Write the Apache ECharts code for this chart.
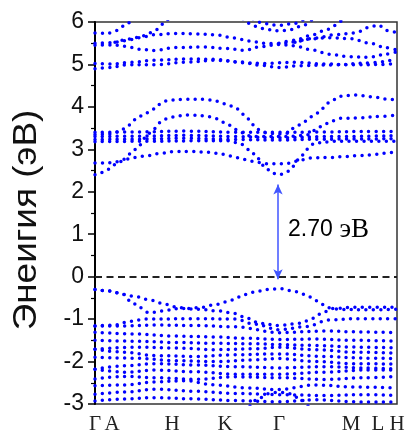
<!DOCTYPE html>
<html><head><meta charset="utf-8">
<script src="https://cdn.jsdelivr.net/npm/echarts@6/dist/echarts.min.js"></script>
<style>html,body{margin:0;padding:0;background:#fff}#c{width:409px;height:435px}</style>
</head><body><div id="c"></div>
<script>
// k-path (arbitrary path units) and high-symmetry labels
const kTicks = [0, 17, 77, 130, 184, 256, 283, 302];
const kLabels = ['Γ', 'A', 'H', 'K', 'Γ', 'M', 'L', 'H'];
const yTitle = 'Энеигия (эВ)';
const gapText = '2.70';
const gapUnit = 'эВ';
const gapK = 183;
const gapEnds = [-0.06, 2.17];

// conduction bands [k, E]
const u1 = [[0,4.90],[17,4.93],[30,4.99],[60,4.99],[90,5.05],[120,5.10],[145,5.06],[165,4.98],[184,4.93],[205,4.97],[240,4.99],[270,5.03],[302,5.12]];
const u2 = [[0,5.02],[17,5.01],[35,5.05],[60,5.10],[90,5.13],[120,5.12],[150,5.04],[170,5.02],[184,5.04],[200,5.05],[230,5.01],[260,4.99],[285,5.00],[302,5.02]];
const u3 = [[0,5.45],[17,5.46],[30,5.43],[45,5.36],[60,5.33],[80,5.40],[110,5.41],[130,5.38],[150,5.33],[165,5.42],[184,5.47],[200,5.44],[215,5.35],[235,5.24],[255,5.18],[275,5.17],[290,5.24],[302,5.30]];
const u4 = [[0,5.50],[17,5.51],[30,5.56],[45,5.63],[60,5.70],[80,5.73],[100,5.72],[120,5.70],[140,5.62],[155,5.55],[170,5.50],[184,5.49],[200,5.53],[215,5.60],[235,5.63],[255,5.61],[275,5.50],[290,5.40],[302,5.34]];
const u5 = [[0,5.74],[12,5.73],[22,5.80],[30,5.92],[38,6.10]];
const u6 = [[20,5.52],[35,5.60],[50,5.68],[60,5.80],[68,5.95],[74,6.10]];
const u7 = [[148,6.08],[160,5.90],[172,5.82],[184,5.79],[196,5.82],[208,5.92],[218,6.08]];
const u8 = [[158,6.08],[170,5.96],[184,5.92],[198,5.96],[210,6.08]];
const u9 = [[184,5.50],[200,5.57],[215,5.68],[230,5.80],[240,5.92],[248,6.08]];
const u10 = [[200,5.52],[220,5.62],[240,5.70],[260,5.74],[275,5.88],[283,5.93],[292,5.80],[302,5.74]];

const c1 = [[0,2.40],[4,2.43],[12,2.52],[20,2.64],[30,2.76],[40,2.81],[50,2.84],[64,2.90],[80,2.95],[97,2.95],[114,2.93],[130,2.88],[140,2.81],[150,2.76],[163,2.69],[173,2.66],[183,2.66],[193,2.67],[202,2.72],[210,2.76],[217,2.80],[237,2.81],[250,2.83],[263,2.85],[277,2.87],[290,2.91],[302,2.95]];
const c2 = [[0,2.68],[12,2.68],[20,2.70],[28,2.76],[36,2.90],[43,3.05],[50,3.27],[58,3.46],[65,3.63],[72,3.72],[82,3.79],[95,3.81],[110,3.79],[122,3.72],[133,3.58],[142,3.46],[153,3.32],[165,3.30],[184,3.30],[200,3.31],[212,3.34],[220,3.45],[228,3.56],[236,3.66],[246,3.73],[265,3.74],[280,3.77],[302,3.81]];
const c3 = [[0,3.35],[15,3.36],[25,3.42],[32,3.54],[40,3.70],[50,3.84],[57,3.93],[63,4.05],[74,4.16],[90,4.18],[110,4.18],[123,4.13],[133,4.05],[142,3.95],[150,3.80],[158,3.58],[165,3.45],[172,3.38],[184,3.36],[192,3.38],[200,3.52],[210,3.66],[220,3.82],[228,3.97],[235,4.12],[245,4.25],[260,4.28],[277,4.24],[292,4.18],[302,4.17]];
const k1 = [[0,3.40],[40,3.41],[90,3.43],[140,3.40],[184,3.40],[230,3.41],[270,3.42],[302,3.42]];
const k2 = [[0,3.30],[40,3.31],[90,3.33],[140,3.30],[184,3.27],[230,3.30],[302,3.32]];
const k3 = [[0,3.23],[40,3.24],[90,3.26],[140,3.23],[184,3.22],[230,3.24],[302,3.25]];
const k4 = [[0,3.18],[50,3.19],[100,3.20],[135,3.20],[146,3.12],[155,2.98],[163,2.78],[170,2.58],[177,2.44],[184,2.40],[191,2.45],[198,2.60],[205,2.80],[212,3.00],[220,3.15],[240,3.19],[302,3.19]];

// valence bands [k, E]
const v1 = [[0,-0.30],[15,-0.34],[29,-0.42],[39,-0.46],[55,-0.55],[70,-0.65],[84,-0.73],[94,-0.75],[104,-0.73],[122,-0.65],[137,-0.55],[150,-0.42],[163,-0.34],[175,-0.30],[184,-0.28],[197,-0.33],[210,-0.42],[222,-0.57],[233,-0.73],[245,-0.77],[270,-0.78],[302,-0.77]];
const v2 = [[0,-0.30],[15,-0.34],[29,-0.42],[35,-0.57],[45,-0.73],[54,-0.85],[67,-0.81],[84,-0.75],[104,-0.77],[124,-0.81],[140,-0.87],[152,-0.98],[165,-1.10],[184,-1.15],[205,-1.10],[218,-0.98],[228,-0.84],[238,-0.75],[260,-0.72],[302,-0.72]];
const v3 = [[0,-1.16],[20,-1.14],[35,-1.05],[50,-1.00],[100,-0.99],[140,-1.00],[160,-1.12],[184,-1.25],[210,-1.18],[235,-1.02],[260,-0.99],[302,-0.99]];
const v4 = [[0,-1.16],[30,-1.16],[60,-1.14],[100,-1.15],[140,-1.18],[184,-1.32],[230,-1.28],[260,-1.30],[302,-1.32]];
const v5 = [[0,-1.31],[40,-1.35],[80,-1.40],[120,-1.42],[150,-1.45],[184,-1.48],[220,-1.47],[260,-1.50],[302,-1.52]];
const v6 = [[0,-1.50],[40,-1.52],[80,-1.55],[120,-1.57],[160,-1.58],[184,-1.60],[220,-1.62],[260,-1.66],[302,-1.68]];
const v7 = [[0,-1.71],[40,-1.66],[80,-1.68],[120,-1.72],[160,-1.70],[184,-1.66],[220,-1.72],[260,-1.78],[302,-1.80]];
const v8 = [[0,-1.71],[30,-1.78],[60,-1.86],[100,-1.88],[140,-1.84],[184,-1.82],[230,-1.88],[270,-1.92],[302,-1.93]];
const v9 = [[0,-1.90],[40,-1.92],[80,-1.98],[120,-2.00],[160,-1.96],[184,-1.93],[220,-2.00],[260,-2.05],[302,-2.06]];
const v10 = [[0,-2.18],[30,-2.10],[60,-2.05],[100,-2.08],[140,-2.12],[184,-2.15],[230,-2.12],[270,-2.15],[302,-2.18]];
const v11 = [[0,-2.18],[30,-2.25],[60,-2.20],[100,-2.24],[140,-2.30],[184,-2.30],[230,-2.25],[270,-2.20],[302,-2.20]];
const v12 = [[0,-2.41],[30,-2.35],[60,-2.38],[100,-2.42],[140,-2.36],[184,-2.38],[230,-2.42],[270,-2.38],[302,-2.35]];
const v13 = [[0,-2.57],[30,-2.55],[60,-2.48],[90,-2.45],[120,-2.55],[150,-2.62],[184,-2.66],[220,-2.55],[260,-2.60],[302,-2.62]];
const v14 = [[0,-2.77],[30,-2.72],[60,-2.65],[100,-2.70],[140,-2.75],[184,-2.78],[230,-2.80],[270,-2.78],[302,-2.80]];
const v15 = [[0,-2.93],[30,-2.88],[60,-2.85],[100,-2.88],[140,-2.92],[184,-2.95],[220,-2.90],[260,-2.95],[302,-2.95]];
const v16 = [[155,-3.05],[165,-2.85],[175,-2.75],[184,-2.72],[193,-2.75],[203,-2.85],[213,-3.05]];

const bands = [u1,u2,u3,u4,u5,u6,u7,u8,u9,u10,c1,c2,c3,k1,k2,k3,k4,
  v1,v2,v3,v4,v5,v6,v7,v8,v9,v10,v11,v12,v13,v14,v15,v16];

const chart = echarts.init(document.getElementById('c'), null, {renderer: 'canvas'});
const series = bands.map(b => ({
  type: 'line', data: b, smooth: 0.35, smoothMonotone: 'x', symbol: 'none',
  silent: true, animation: false, clip: true,
  lineStyle: {color: '#0000ff', width: 3.5, type: [0, 7.4], cap: 'round'}
}));
series.push({
  type: 'line', data: [], silent: true, animation: false,
  markLine: {
    silent: true, animation: false, symbol: 'none', label: {show: false},
    lineStyle: {color: '#222', width: 1.8, type: [7, 4.5]},
    data: [{yAxis: 0}]
  }
});
series.push({
  type: 'line', data: [], silent: true, animation: false,
  markLine: {
    silent: true, animation: false, symbol: ['arrow', 'arrow'], symbolSize: [7, 10],
    label: {show: false},
    lineStyle: {color: '#4055ff', width: 1.5, type: 'solid'},
    data: [[{coord: [gapK, gapEnds[0]]}, {coord: [gapK, gapEnds[1]]}]]
  }
});

chart.setOption({
  animation: false,
  grid: {left: 95, right: 12, top: 22, bottom: 30, show: true, borderColor: '#333', borderWidth: 1.5, backgroundColor: 'transparent'},
  xAxis: {
    type: 'value', min: 0, max: 302,
    axisLine: {show: false}, axisTick: {show: false}, splitLine: {show: false},
    axisLabel: {
      customValues: kTicks,
      formatter: (v, i) => kLabels[kTicks.indexOf(v)],
      fontFamily: 'Liberation Serif', fontSize: 21, color: '#222', margin: 10
    }
  },
  yAxis: {
    type: 'value', min: -3, max: 6, interval: 1,
    axisLine: {show: true, lineStyle: {color: '#000', width: 2}},
    axisTick: {show: true, inside: false, length: 7, lineStyle: {color: '#000', width: 1.5}},
    minorTick: {show: true, splitNumber: 2, length: 4, lineStyle: {color: '#000', width: 1.2}},
    splitLine: {show: false},
    axisLabel: {fontFamily: 'Liberation Sans', fontSize: 23, color: '#111', margin: 11}
  },
  series: series
});

const p = chart.convertToPixel({gridIndex: 0}, [gapK + 10, (gapEnds[0] + gapEnds[1]) / 2 + 0.05]);
chart.setOption({
  graphic: [
    {type: 'text', x: 27, y: 220, rotation: Math.PI / 2, scaleX: 1.12, scaleY: 1,
     style: {text: yTitle, fontFamily: 'Liberation Sans', fontSize: 33, fill: '#111', align: 'center', verticalAlign: 'middle'}},
    {type: 'text', x: p[0], y: p[1],
     style: {text: '{a|' + gapText + '}  {b|' + gapUnit + '}', verticalAlign: 'middle', align: 'left',
       rich: {a: {fontFamily: 'Liberation Sans', fontSize: 23, color: '#1a1af0'},
              b: {fontFamily: 'Liberation Serif', fontSize: 27, color: '#1a1af0'}}}}
  ]
});
</script></body></html>
